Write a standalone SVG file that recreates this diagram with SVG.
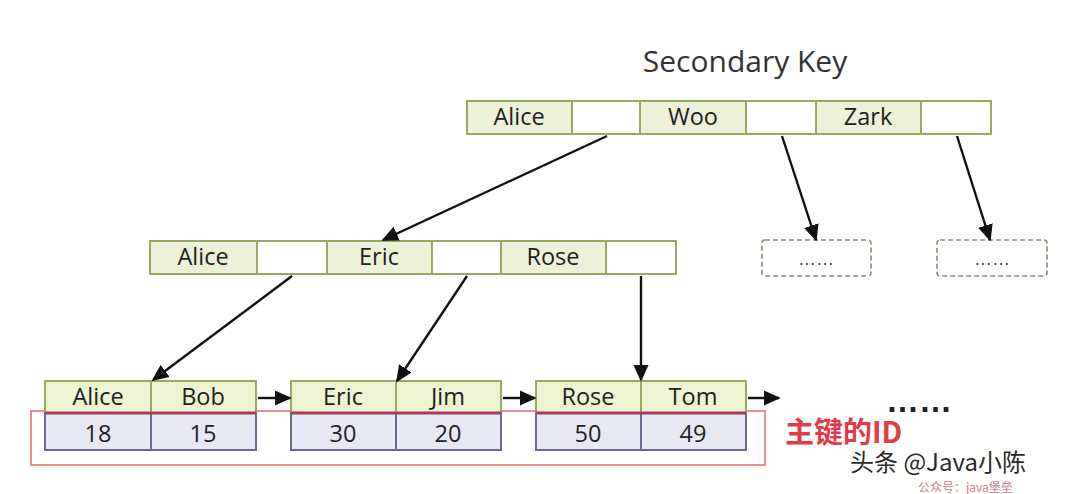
<svg xmlns="http://www.w3.org/2000/svg" width="1080" height="494" viewBox="0 0 1080 494">
<defs>
<marker id="ah" viewBox="0 0 10 10" refX="9" refY="5" markerWidth="7" markerHeight="7" markerUnits="strokeWidth" orient="auto">
<path d="M0,0.5 L10,5 L0,9.5 z" fill="#111"/>
</marker>
<style>
.k{fill:#edf1d8;stroke:#97aa62;stroke-width:2}
.kl{fill:#eef3d2;stroke:#97aa62;stroke-width:2}
.w{fill:#fff;stroke:#97aa62;stroke-width:2}
.v{fill:#e8e8f4;stroke:#6a6a92;stroke-width:2}
.t{font-family:"Open Sans","Noto Sans",sans-serif;font-size:23.5px;fill:#222;text-anchor:middle}
.d{fill:none;stroke:#8c8c70;stroke-width:1.6;stroke-dasharray:5,3}
.c{stroke:#111;stroke-width:2.4;fill:none;marker-end:url(#ah)}
</style>
</defs>
<rect width="1080" height="494" fill="#fff"/>
<text x="745" y="72" font-family="'Open Sans','Noto Sans',sans-serif" font-size="30" fill="#333" text-anchor="middle">Secondary Key</text>

<g id="root">
<rect class="k" x="467" y="101" width="105" height="33"/>
<rect class="w" x="572" y="101" width="68" height="33"/>
<rect class="k" x="640" y="101" width="106" height="33"/>
<rect class="w" x="746" y="101" width="70" height="33"/>
<rect class="k" x="816" y="101" width="105" height="33"/>
<rect class="w" x="921" y="101" width="70" height="33"/>
<text class="t" x="519" y="125">Alice</text>
<text class="t" x="693" y="125">Woo</text>
<text class="t" x="868" y="125">Zark</text>
</g>

<g id="mid">
<rect class="k" x="150" y="241" width="107" height="33"/>
<rect class="w" x="257" y="241" width="70" height="33"/>
<rect class="k" x="327" y="241" width="105" height="33"/>
<rect class="w" x="432" y="241" width="69" height="33"/>
<rect class="k" x="501" y="241" width="105" height="33"/>
<rect class="w" x="606" y="241" width="70" height="33"/>
<text class="t" x="203" y="265">Alice</text>
<text class="t" x="379" y="265">Eric</text>
<text class="t" x="553" y="265">Rose</text>
</g>

<g id="dash1">
<rect class="d" x="762" y="240" width="109" height="36" rx="3"/>
<text x="816" y="265" font-family="'Liberation Sans',sans-serif" font-size="18" fill="#444" text-anchor="middle">……</text>
</g>
<g id="dash2">
<rect class="d" x="937" y="240" width="110" height="36" rx="3"/>
<text x="992" y="265" font-family="'Liberation Sans',sans-serif" font-size="18" fill="#444" text-anchor="middle">……</text>
</g>

<g id="pkbox">
<rect x="31" y="411" width="734" height="54" fill="none" stroke="#e6707c" stroke-width="1.6"/>
</g>

<g id="leaf1">
<rect class="kl" x="45" y="381" width="106" height="32"/>
<rect class="kl" x="151" y="381" width="105" height="32"/>
<rect class="v" x="45" y="413" width="106" height="37"/>
<rect class="v" x="151" y="413" width="105" height="37"/>
<line x1="45" y1="413" x2="256" y2="413" stroke="#a83a5a" stroke-width="3"/>
<text class="t" x="98" y="405">Alice</text>
<text class="t" x="203" y="405">Bob</text>
<text class="t" x="98" y="442">18</text>
<text class="t" x="203" y="442">15</text>
</g>

<g id="leaf2">
<rect class="kl" x="291" y="381" width="105" height="32"/>
<rect class="kl" x="396" y="381" width="105" height="32"/>
<rect class="v" x="291" y="413" width="105" height="37"/>
<rect class="v" x="396" y="413" width="105" height="37"/>
<line x1="291" y1="413" x2="501" y2="413" stroke="#a83a5a" stroke-width="3"/>
<text class="t" x="343" y="405">Eric</text>
<text class="t" x="448" y="405">Jim</text>
<text class="t" x="343" y="442">30</text>
<text class="t" x="448" y="442">20</text>
</g>

<g id="leaf3">
<rect class="kl" x="536" y="381" width="105" height="32"/>
<rect class="kl" x="641" y="381" width="105" height="32"/>
<rect class="v" x="536" y="413" width="105" height="37"/>
<rect class="v" x="641" y="413" width="105" height="37"/>
<line x1="536" y1="413" x2="746" y2="413" stroke="#a83a5a" stroke-width="3"/>
<text class="t" x="588" y="405">Rose</text>
<text class="t" x="693" y="405">Tom</text>
<text class="t" x="588" y="442">50</text>
<text class="t" x="693" y="442">49</text>
</g>

<g id="connectors">
<line class="c" x1="607" y1="136" x2="383" y2="240"/>
<line class="c" x1="782" y1="136" x2="816" y2="240"/>
<line class="c" x1="957" y1="136" x2="990" y2="240"/>
<line class="c" x1="292" y1="276" x2="153" y2="380"/>
<line class="c" x1="467" y1="276" x2="397" y2="381"/>
<line class="c" x1="641" y1="276" x2="641" y2="380"/>
<line class="c" x1="258" y1="398" x2="290" y2="398"/>
<line class="c" x1="503" y1="398" x2="535" y2="398"/>
<line class="c" x1="748" y1="398" x2="779" y2="398"/>
</g>

<text x="886" y="412" font-family="'Liberation Sans',sans-serif" font-size="33" font-weight="bold" fill="#222">……</text>
<text x="785" y="443" font-family="'Noto Sans CJK SC',sans-serif" font-size="29" font-weight="bold" fill="#e23a48">主键的ID</text>
<text x="850" y="471" font-family="'Noto Sans CJK SC',sans-serif" font-size="24" fill="#2a2a2a">头条 @Java小陈</text>
<text x="918" y="492" font-family="'Noto Sans CJK SC',sans-serif" font-size="12" fill="#c04a5a" fill-opacity="0.75">公众号：java堡垒</text>
</svg>
